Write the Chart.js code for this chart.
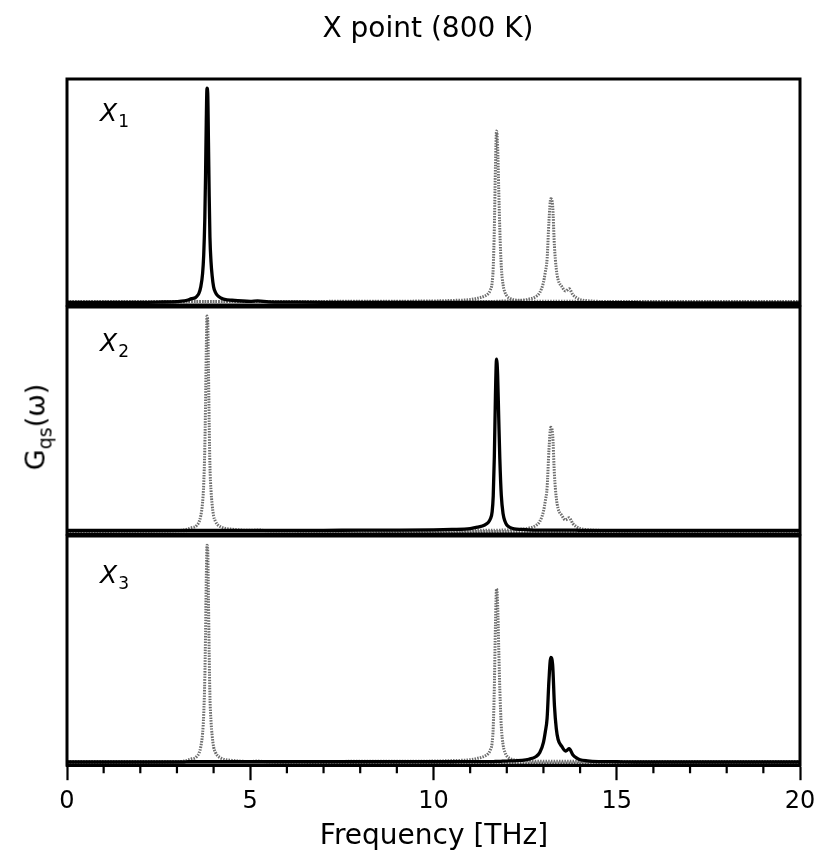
<!DOCTYPE html>
<html><head><meta charset="utf-8">
<script src="https://cdn.jsdelivr.net/npm/chart.js@4"></script>
<style>
html,body{margin:0;padding:0;background:#fff;}
#wrap{position:relative;width:830px;height:866px;font-family:"DejaVu Sans",sans-serif;color:#000;overflow:hidden;}
canvas{position:absolute;left:0;top:0;}
.t{position:absolute;white-space:nowrap;line-height:1;}
.lab{position:absolute;white-space:nowrap;line-height:1;font-size:25px;}
.lab i{font-style:italic;}
.lab span{font-size:17px;position:relative;top:6px;margin-left:1px;}
</style></head><body>
<div id="wrap">
<canvas id="c0" width="830" height="866"></canvas>
<canvas id="c1" width="830" height="866"></canvas>
<canvas id="c2" width="830" height="866"></canvas>
<div class="t" style="left:0;width:856px;top:14px;text-align:center;font-size:28px;">X point (800 K)</div>
<div class="t" style="left:0;width:868px;top:821px;text-align:center;font-size:28px;">Frequency [THz]</div>
<div class="t" style="left:35px;top:427px;font-size:27px;transform:translate(-50%,-50%) rotate(-90deg);">G<span style="font-size:19px;position:relative;top:7px;">qs</span>(ω)</div>
<div class="lab" style="left:100px;top:100px;"><i>X</i><span>1</span></div>
<div class="lab" style="left:100px;top:330px;"><i>X</i><span>2</span></div>
<div class="lab" style="left:100px;top:562px;"><i>X</i><span>3</span></div>
</div>
<script>
// Frequency grid [THz]
const freq = [0,0.5,1,1.5,2,2.5,3,3.2,3.3,3.4,
  3.5,3.55,3.6,3.65,3.7,3.73,3.76,3.78,3.8,3.82,
  3.84,3.86,3.88,3.9,3.93,3.96,4.0,4.05,4.1,4.2,
  4.3,4.5,5,5.2,5.5,6,7,8,9,10,
  10.5,11,11.2,11.4,11.5,11.55,11.6,11.63,11.66,11.69,
  11.72,11.75,11.78,11.81,11.85,11.9,11.95,12.0,12.1,12.2,
  12.4,12.6,12.8,12.9,13.0,13.05,13.1,13.15,13.2,13.25,
  13.3,13.35,13.4,13.5,13.6,13.65,13.7,13.8,13.9,14.0,
  14.2,14.5,15,15.5,16,17,18,19,20];
// G_qs(omega) for mode X1
const gX1 = [0.011,0.011,0.011,0.012,0.012,0.013,0.015,0.018,0.022,0.028,
  0.032,0.040,0.052,0.080,0.140,0.220,0.380,0.570,0.810,0.960,
  0.935,0.720,0.480,0.300,0.190,0.130,0.080,0.056,0.043,0.031,
  0.025,0.021,0.016,0.018,0.014,0.013,0.012,0.012,0.011,0.011,
  0.011,0.011,0.011,0.011,0.011,0.011,0.011,0.011,0.011,0.011,
  0.011,0.011,0.011,0.011,0.011,0.011,0.011,0.011,0.011,0.011,
  0.011,0.010,0.010,0.010,0.010,0.010,0.010,0.010,0.010,0.010,
  0.010,0.010,0.010,0.010,0.010,0.010,0.010,0.010,0.010,0.010,
  0.010,0.010,0.010,0.010,0.009,0.009,0.009,0.009,0.009];
// G_qs(omega) for mode X2
const gX2 = [0.016,0.016,0.016,0.016,0.016,0.016,0.016,0.016,0.016,0.016,
  0.016,0.016,0.016,0.016,0.016,0.016,0.016,0.016,0.016,0.016,
  0.016,0.016,0.016,0.016,0.016,0.016,0.016,0.016,0.016,0.016,
  0.016,0.016,0.016,0.016,0.016,0.016,0.016,0.017,0.017,0.018,
  0.020,0.024,0.030,0.040,0.052,0.066,0.098,0.168,0.340,0.610,
  0.770,0.700,0.510,0.330,0.170,0.088,0.056,0.040,0.028,0.023,
  0.020,0.018,0.017,0.017,0.017,0.017,0.017,0.017,0.017,0.017,
  0.017,0.017,0.017,0.017,0.017,0.017,0.017,0.017,0.017,0.016,
  0.016,0.016,0.016,0.016,0.016,0.016,0.016,0.016,0.016];
// G_qs(omega) for mode X3
const gX3 = [0.014,0.014,0.014,0.014,0.014,0.014,0.014,0.014,0.015,0.015,
  0.015,0.015,0.015,0.015,0.015,0.015,0.015,0.015,0.015,0.015,
  0.015,0.015,0.015,0.015,0.015,0.015,0.015,0.015,0.015,0.015,
  0.015,0.015,0.015,0.015,0.015,0.015,0.015,0.015,0.015,0.015,
  0.015,0.016,0.016,0.016,0.016,0.016,0.016,0.016,0.016,0.017,
  0.017,0.017,0.017,0.017,0.017,0.018,0.018,0.018,0.019,0.019,
  0.021,0.026,0.038,0.055,0.100,0.145,0.205,0.370,0.470,0.440,
  0.260,0.160,0.112,0.082,0.062,0.066,0.072,0.046,0.032,0.024,
  0.019,0.016,0.015,0.014,0.014,0.014,0.014,0.014,0.014];
const xTicks = [0,5,10,15,20];

const series = [gX1, gX2, gX3];
const panels = [{top:79,bottom:561},{top:307,bottom:332},{top:536,bottom:43}];

function pts(arr){ return freq.map((f,i)=>({x:f,y:arr[i]})); }

const framePlugin = {
  id:'frame',
  afterDraw(chart){
    const {ctx, chartArea:a} = chart;
    ctx.save();
    ctx.strokeStyle='#000'; ctx.lineWidth=3;
    ctx.strokeRect(a.left, a.top, a.right-a.left, a.bottom-a.top);
    const s = chart.scales.x;
    if (s.options.display) {
      ctx.lineWidth=2.2;
      ctx.beginPath();
      s.ticks.forEach(t=>{
        if (!xTicks.includes(t.value)) {
          const px = s.getPixelForValue(t.value);
          ctx.moveTo(px, a.bottom); ctx.lineTo(px, a.bottom+8);
        }
      });
      ctx.stroke();
    }
    ctx.restore();
  }
};

panels.forEach((p,k)=>{
  const ds = [];
  ds.push({data:pts(series[k]), borderColor:'#000', borderWidth:3.3, borderJoinStyle:'round'});
  series.forEach((s,j)=>{ if(j!==k) ds.push({data:pts(s), borderColor:'#6e6e6e', borderWidth:3, borderDash:[1.5,1.2]}); });
  const isBottom = k===2;
  new Chart(document.getElementById('c'+k), {
    type:'line',
    data:{datasets:ds},
    plugins:[framePlugin],
    options:{
      responsive:false, animation:false,
      layout:{padding:{left:67,right:30,top:p.top,bottom:p.bottom}},
      plugins:{legend:{display:false},tooltip:{enabled:false},title:{display:false}},
      elements:{point:{radius:0},line:{cubicInterpolationMode:'monotone',fill:false}},
      scales:{
        x:{type:'linear',min:0,max:20,display:isBottom,
          border:{display:true,color:'#000',width:3},
          grid:{drawOnChartArea:false,tickLength:15,tickWidth:2.2,
            tickColor:(c)=> xTicks.includes(c.tick.value)?'#000':'rgba(0,0,0,0)'},
          ticks:{stepSize:1,autoSkip:false,maxRotation:0,padding:7,color:'#000',
            font:{family:'DejaVu Sans',size:24},
            callback:(v)=> xTicks.includes(v)? String(v) : ''}
        },
        y:{min:0,max:1,display:false}
      }
    }
  });
});
</script>
</body></html>
